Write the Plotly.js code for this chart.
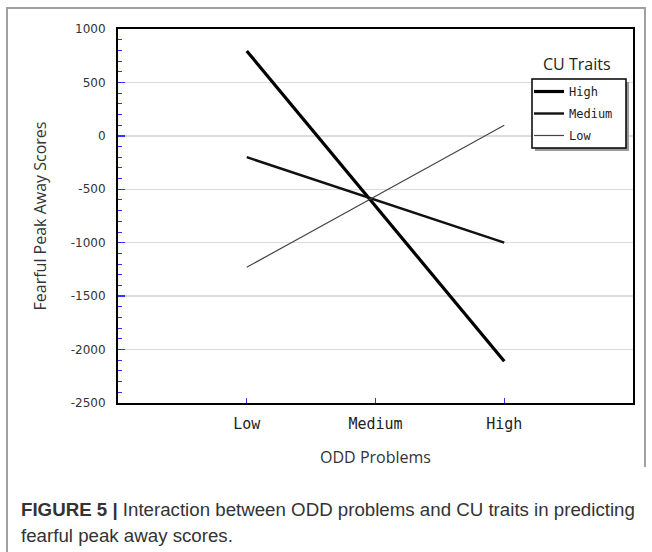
<!DOCTYPE html>
<html>
<head>
<meta charset="utf-8">
<script src="https://cdn.plot.ly/plotly-3.0.1.min.js"></script>
<style>
  html, body { margin: 0; padding: 0; background: #fff; }
  #wrap { position: relative; width: 652px; height: 552px; }
  #chart { position: absolute; left: 0; top: 0; width: 652px; height: 552px; }
  .frame { position: absolute; background: #a0a0a0; }
</style>
</head>
<body>
<div id="wrap">
  <div id="chart"></div>
  <div class="frame" style="left:6px; top:7px; width:640px; height:2px;"></div>
  <div class="frame" style="left:6px; top:7px; width:2px; height:545px;"></div>
  <div class="frame" style="left:644px; top:7px; width:2px; height:460px;"></div>
</div>
<script>
// ---- data ----
const oddLevels = ["Low", "Medium", "High"];
const cuHigh = [795, -655, -2110];
const cuMedium = [-200, -600, -1000];
const cuLow = [-1230, -565, 100];
const seriesNames = ["High", "Medium", "Low"];
const yTickVals = [1000, 500, 0, -500, -1000, -1500, -2000, -2500];
const yTickText = ["1000", "500", "0", "-500", "-1000", "-1500", "-2000", "-2500"];

const W = 652, H = 552;
const L = 118, R = 19, T = 29, B = 149;
const pw = W - L - R, ph = H - T - B;
const px = x => (x - L) / pw;
const py = y => (H - B - y) / ph;

const mono = "DejaVu Sans Mono, Liberation Mono, monospace";
const sans = "DejaVu Sans, Verdana, sans-serif";
const ui = "Open Sans, Noto Sans, sans-serif";

const traces = [
  {x: oddLevels, y: cuHigh, name: seriesNames[0], mode: "lines", line: {color: "#000", width: 3.2}, legendgroup: "a"},
  {x: oddLevels, y: cuMedium, name: seriesNames[1], mode: "lines", line: {color: "#111", width: 2.4}, legendgroup: "b"},
  {x: oddLevels, y: cuLow, name: seriesNames[2], mode: "lines", line: {color: "#444", width: 1.2}, legendgroup: "c"}
];

const layout = {
  width: W, height: H,
  margin: {l: L, r: R, t: T, b: B, pad: 0},
  paper_bgcolor: "rgba(0,0,0,0)",
  plot_bgcolor: "#fff",
  showlegend: true,
  legend: {
    x: px(529), y: py(77), xanchor: "left", yanchor: "top",
    bgcolor: "rgba(0,0,0,0)", borderwidth: 0,
    font: {family: mono, size: 12, color: "#222"},
    tracegroupgap: 3, traceorder: "grouped",
    itemwidth: 30
  },
  xaxis: {
    type: "category",
    range: [-1, 3],
    showline: true, linecolor: "#000", linewidth: 2, mirror: true,
    ticks: "inside", ticklen: 5, tickcolor: "#3333ff", tickwidth: 1,
    showgrid: false, zeroline: false,
    ticklabelstandoff: 6,
    tickfont: {family: mono, size: 15, color: "#222"},
    title: {text: "ODD Problems", font: {family: ui, size: 16, color: "#333"}, standoff: 20}
  },
  yaxis: {
    range: [-2500, 1000],
    tickvals: yTickVals, ticktext: yTickText,
    showline: true, linecolor: "#000", linewidth: 2, mirror: true,
    ticks: "inside", ticklen: 7, tickcolor: "#3333ff", tickwidth: 1.5,
    minor: {dtick: 100, ticks: "inside", ticklen: 4, tickcolor: "#3333ff", tickwidth: 1, showgrid: false},
    showgrid: true, gridcolor: "#dcdcdc", gridwidth: 1.5,
    zeroline: false,
    ticklabelstandoff: 8,
    tickfont: {family: sans, size: 12, color: "#333"},
    title: {text: "Fearful Peak Away Scores", font: {family: ui, size: 16, color: "#333"}, standoff: 20}
  },
  shapes: [
    {type: "rect", xref: "paper", yref: "paper", x0: px(535), x1: px(629), y0: py(82), y1: py(151),
     fillcolor: "#9a9a9a", line: {width: 0}, layer: "above"},
    {type: "rect", xref: "paper", yref: "paper", x0: px(532), x1: px(626), y0: py(79), y1: py(148),
     fillcolor: "#fff", line: {color: "#000", width: 1.5}, layer: "above"}
  ],
  annotations: [
    {text: "CU Traits", xref: "paper", yref: "paper", x: px(577), y: py(64), xanchor: "center", yanchor: "middle",
     showarrow: false, font: {family: ui, size: 16, color: "#222"}},
    {text: "<b>FIGURE 5 |</b> Interaction between ODD problems and CU traits in predicting",
     xref: "paper", yref: "paper", x: px(19), y: py(509), xanchor: "left", yanchor: "middle",
     showarrow: false, font: {family: "Liberation Sans, Arial, sans-serif", size: 18.7, color: "#333"}},
    {text: "fearful peak away scores.",
     xref: "paper", yref: "paper", x: px(19), y: py(535), xanchor: "left", yanchor: "middle",
     showarrow: false, font: {family: "Liberation Sans, Arial, sans-serif", size: 18.7, color: "#333"}}
  ]
};

Plotly.newPlot("chart", traces, layout, {displayModeBar: false, staticPlot: true});
</script>
</body>
</html>
